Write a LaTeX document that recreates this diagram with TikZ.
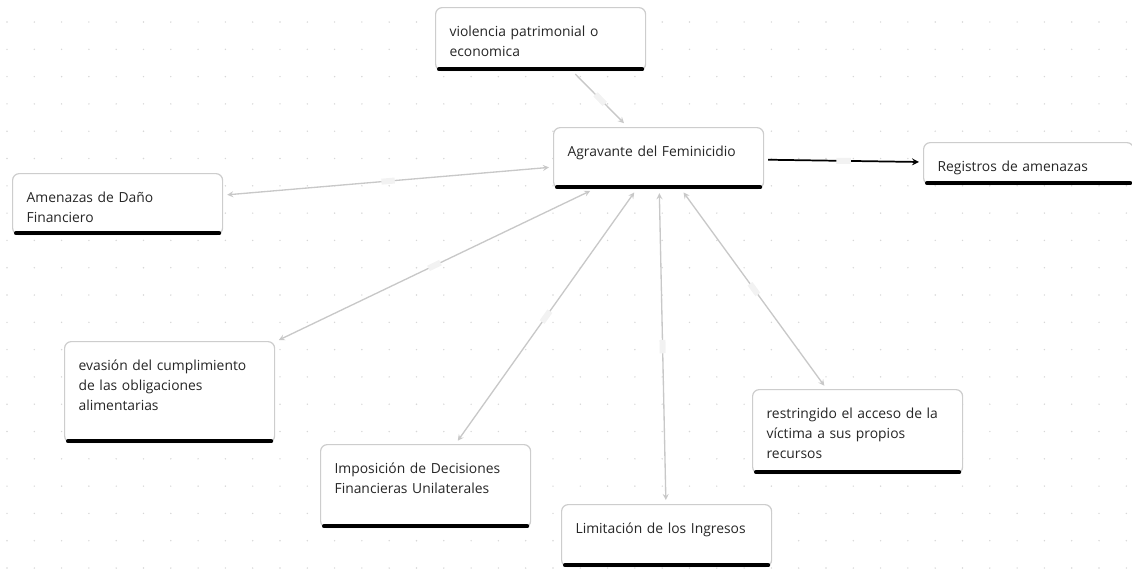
\documentclass[tikz,border=0pt]{standalone}
\usepackage{fontspec}
\setmainfont{Open Sans}
\definecolor{txtgray}{RGB}{38,38,38}
\definecolor{cardborder}{RGB}{205,205,205}
\definecolor{linkgray}{RGB}{200,200,200}
\definecolor{dotgray}{RGB}{215,215,215}
\begin{document}
\begin{tikzpicture}[x=0.75pt,y=-0.75pt]
		\tikzset{card/.style = {draw=cardborder, line width=0.9pt, fill=white, rounded corners=5pt,
				anchor=north west, text width=136.5pt, inner xsep=10.5pt, inner ysep=0pt, align=left,
				text height=21.75pt, text depth=#1, text=txtgray, font=\fontsize{10.4}{15}\selectfont}}
		\tikzset{edge/.style = {<->, > = stealth, draw=linkgray, line width=1pt, shorten <=3pt, shorten >=3pt}}
		\tikzset{midbox/.style = {sloped, fill=gray!10, inner sep=0pt, minimum width=10pt, minimum height=4.5pt}}
		\useasboundingbox (0,0) rectangle (1132,569);
		% Dot grid
		\foreach \i in {0,...,41}
			\foreach \j in {0,...,20}
				\fill[dotgray] (7+27.3*\i, 22+27.3*\j) circle (0.6pt);
		% Cards
		\node[card=25.5pt] (vio) at (435,7) {violencia patrimonial o\\economica};
		\node[card=24pt] (agr) at (553,127) {Agravante del Feminicidio};
		\node[card=9.75pt] (reg) at (923,142) {Registros de amenazas};
		\node[card=24pt] (ame) at (12,173) {Amenazas de Daño\\Financiero};
		\node[card=54pt] (eva) at (64,341) {evasión del cumplimiento\\de las obligaciones\\alimentarias};
		\node[card=40.5pt] (imp) at (320,444) {Imposición de Decisiones\\Financieras Unilaterales};
		\node[card=24.75pt] (lim) at (561,504) {Limitación de los Ingresos};
		\node[card=41.25pt] (res) at (752,389) {restringido el acceso de la\\víctima a sus propios\\recursos};
		\foreach \n in {vio,agr,reg,ame,eva,imp,lim,res}
			\draw[line width=3pt, line cap=round] ([xshift=3pt,yshift=1.5pt]\n.south west) -- ([xshift=-3pt,yshift=1.5pt]\n.south east);
		% Links
		\draw[edge, ->, shorten >=4pt] (vio) to node[midbox] (m1) {} (agr);
		\draw[edge] (agr) to node[midbox] (m2) {} (ame);
		\draw[edge] (agr) to node[midbox] (m3) {} (eva);
		\draw[edge] (agr) to node[midbox] (m4) {} (imp);
		\draw[edge] (agr) to node[midbox] (m5) {} (lim);
		\draw[edge] (agr) to node[midbox] (m6) {} (res);
		\draw[edge, ->, draw=black, line width=1.3pt] (agr) to node[midbox, minimum width=11pt] (m7) {} (reg);
	\end{tikzpicture}
\end{document}
